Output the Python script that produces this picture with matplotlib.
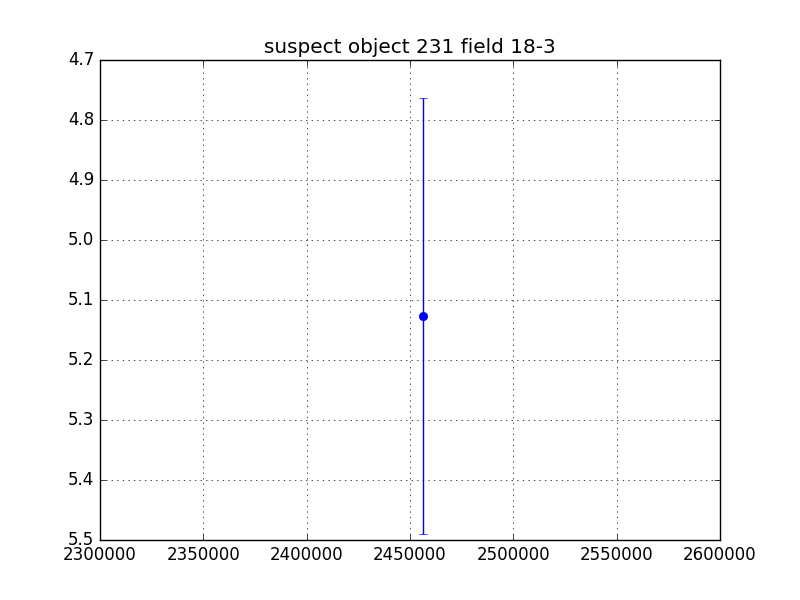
import matplotlib
matplotlib.use("Agg")
import matplotlib.pyplot as plt

# photometry point for the suspect object
jd = [2456290]
mag = [5.127]
mag_err = [0.363]

plt.style.use('classic')
fig = plt.figure(figsize=(8, 6), dpi=100)
ax = fig.add_subplot(111)
ax.errorbar(jd, mag, yerr=mag_err, fmt='o', color='b', ecolor='b',
            markersize=6, capsize=3, markeredgecolor='b')
ax.set_xlim(2300000, 2600000)
ax.set_ylim(5.5, 4.7)
ax.ticklabel_format(axis='x', style='plain', useOffset=False)
ax.grid(True)
ax.set_title('suspect object 231 field 18-3')
fig.subplots_adjust(left=0.125, right=0.9, bottom=0.1, top=0.9)
fig.savefig('out.png', dpi=100)
